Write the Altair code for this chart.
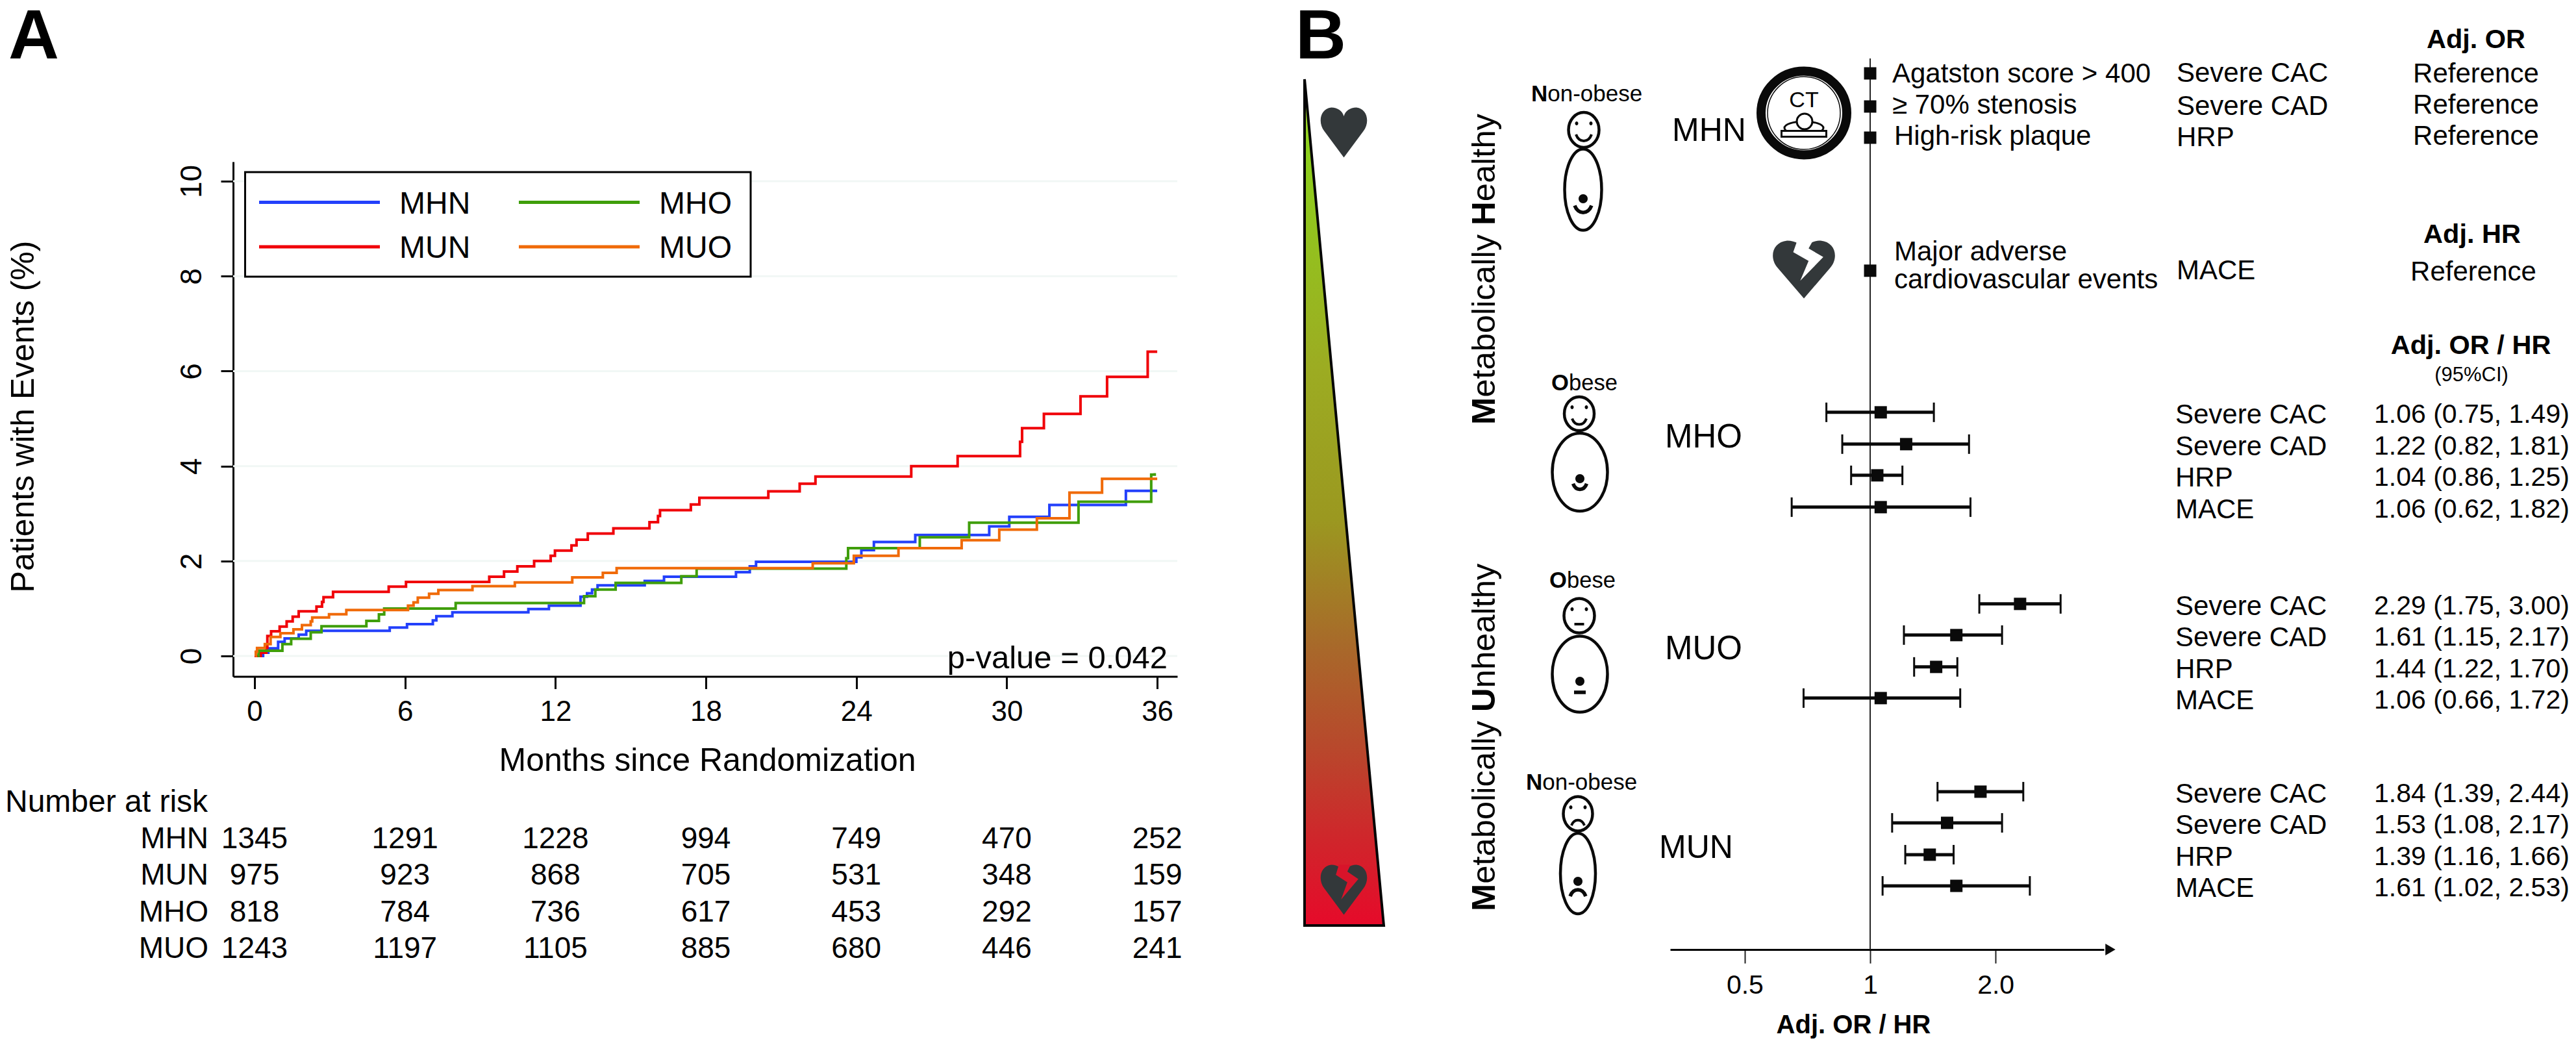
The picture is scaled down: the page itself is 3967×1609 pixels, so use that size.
import altair as alt
import pandas as pd

W, H = 3951, 1593
O = 8
FONT = "Liberation Sans"

# ---------- Panel A: cumulative events (month of jump, level after jump) ----------
MHN_M = [0, .34, .55, .94, 1.2, 1.76, 2.06, 5.39, 6.08, 7.11, 7.25, 7.89, 10.92, 11.74, 13.0, 13.26, 13.46, 13.68, 15.56, 16.33, 19.2, 19.75, 20.0, 24.0, 24.2, 24.7, 26.35, 29.3, 30.1, 31.7, 34.75, 36]
MHN_V = [0, .07, .16, .30, .37, .45, .53, .60, .67, .75, .84, .92, .99, 1.06, 1.25, 1.32, 1.40, 1.49, 1.58, 1.67, 1.765, 1.89, 1.985, 2.08, 2.23, 2.40, 2.55, 2.73, 2.93, 3.18, 3.48, 3.48]
MUN_M = [0, .25, .47, .51, .66, 1.0, 1.28, 1.52, 1.76, 2.47, 2.69, 2.75, 3.13, 5.35, 6.04, 9.36, 9.95, 10.48, 11.15, 11.81, 11.98, 12.64, 12.84, 13.29, 14.31, 15.75, 16.09, 16.17, 17.4, 17.74, 20.49, 21.74, 22.37, 26.19, 28.04, 30.53, 30.61, 31.48, 32.94, 34.0, 35.62, 36]
MUN_V = [0, .07, .18, .42, .52, .62, .73, .83, .94, 1.04, 1.14, 1.24, 1.35, 1.46, 1.56, 1.67, 1.78, 1.89, 2.0, 2.11, 2.22, 2.33, 2.45, 2.58, 2.69, 2.82, 2.95, 3.07, 3.19, 3.33, 3.47, 3.63, 3.78, 4.0, 4.21, 4.51, 4.80, 5.10, 5.47, 5.88, 6.41, 6.41]
MHO_M = [.12, .16, 1.11, 1.46, 2.24, 2.67, 4.46, 4.96, 5.17, 8.02, 13.14, 13.59, 14.4, 17.02, 17.63, 23.6, 23.67, 26.53, 28.5, 32.86, 35.76, 35.9]
MHO_V = [0, .11, .25, .365, .50, .625, .74, .875, 1.0, 1.117, 1.26, 1.40, 1.54, 1.68, 1.84, 2.06, 2.27, 2.50, 2.81, 3.25, 3.82, 3.85]
MUO_M = [.03, .05, .1, .41, .64, 1.03, 1.55, 1.89, 2.24, 2.30, 2.97, 3.66, 6.12, 6.34, 6.51, 6.96, 7.33, 8.69, 10.38, 12.67, 13.89, 14.44, 22.26, 23.9, 25.68, 28.2, 29.7, 31.2, 32.5, 33.8, 36]
MUO_V = [0, .09, .17, .25, .40, .48, .56, .65, .73, .81, .88, .97, 1.06, 1.13, 1.23, 1.31, 1.39, 1.47, 1.55, 1.655, 1.753, 1.85, 1.955, 2.11, 2.27, 2.44, 2.66, 2.90, 3.44, 3.73, 3.73]
GROUP_COLORS = {"MHN": "#2340fb", "MUN": "#f00008", "MHO": "#3f9e0a", "MUO": "#f06a08"}

MONTHS = [0, 6, 12, 18, 24, 30, 36]
Y_TICKS = [0, 2, 4, 6, 8, 10]
RISK = {
    "MHN": [1345, 1291, 1228, 994, 749, 470, 252],
    "MUN": [975, 923, 868, 705, 531, 348, 159],
    "MHO": [818, 784, 736, 617, 453, 292, 157],
    "MUO": [1243, 1197, 1105, 885, 680, 446, 241],
}

# ---------- Panel B: forest plot ----------
ROW_MHN = [0, 1.04, 2.02, 6.2]
ROW_MHO = [10.65, 11.65, 12.63, 13.63]
ROW_MUO = [16.67, 17.65, 18.65, 19.63]
ROW_MUN = [22.57, 23.55, 24.55, 25.53]
OUTCOMES = ["Severe CAC", "Severe CAD", "HRP", "MACE"]
EST_MHO = [1.06, 1.22, 1.04, 1.06]
EST_MUO = [2.29, 1.61, 1.44, 1.06]
EST_MUN = [1.84, 1.53, 1.39, 1.61]
# whisker ends as drawn in the picture
LO_MHO = [.785, .857, .900, .648]
HI_MHO = [1.422, 1.727, 1.195, 1.741]
LO_MUO = [1.828, 1.205, 1.275, .692]
HI_MUO = [2.865, 2.073, 1.619, 1.645]
LO_MUN = [1.451, 1.129, 1.214, 1.071]
HI_MUN = [2.331, 2.073, 1.586, 2.417]
# printed column
LAB_MHO = ["1.06 (0.75, 1.49)", "1.22 (0.82, 1.81)", "1.04 (0.86, 1.25)", "1.06 (0.62, 1.82)"]
LAB_MUO = ["2.29 (1.75, 3.00)", "1.61 (1.15, 2.17)", "1.44 (1.22, 1.70)", "1.06 (0.66, 1.72)"]
LAB_MUN = ["1.84 (1.39, 2.44)", "1.53 (1.08, 2.17)", "1.39 (1.16, 1.66)", "1.61 (1.02, 2.53)"]

SEVERITY = [0, 1]
WIDENING = [0, 1]


def T(text, x, y, size, weight="normal", align="left", angle=None, baseline="middle", color="black"):
    kw = {"angle": angle} if angle is not None else {}
    return alt.Chart(pd.DataFrame({"t": [text]})).mark_text(
        font=FONT, fontSize=size, fontWeight=weight, align=align, baseline=baseline, color=color, **kw
    ).encode(text="t:N", x=alt.value(x - O), y=alt.value(y - O))


def P(path, x, y, w, fill=None, stroke=None, sw=0):
    kw = {}
    if fill:
        kw["fill"] = fill
    if stroke:
        kw["stroke"] = stroke
        kw["strokeWidth"] = sw
    return alt.Chart(pd.DataFrame({"t": [0]})).mark_point(
        shape=path, size=w * w, filled=bool(fill), opacity=1, **kw
    ).encode(x=alt.value(x - O), y=alt.value(y - O))


def ellipse_path(w, h):
    s = max(w, h)
    a, b = w / s, h / s
    ka, kb = a * .5523, b * .5523
    return (f"M{-a},0 C{-a},{-kb} {-ka},{-b} 0,{-b} C{ka},{-b} {a},{-kb} {a},0 "
            f"C{a},{kb} {ka},{b} 0,{b} C{-ka},{b} {-a},{kb} {-a},0 Z")


def ell(x, y, w, h, fill=None, stroke=None, sw=0):
    return P(ellipse_path(w, h), x, y, max(w, h), fill, stroke, sw)


def heart_path(k=1.0):
    return (f"M0,{k} L-0.78,{-.05*k} C-1.05,{-.4*k} -0.95,{-.95*k} -0.5,{-k} C-0.25,{-k} -0.05,{-.85*k} 0,{-.65*k} "
            f"C0.05,{-.85*k} 0.25,{-k} 0.5,{-k} C0.95,{-.95*k} 1.05,{-.4*k} 0.78,{-.05*k} Z")


def crack_path(k=1.0):
    return (f"M-.2,{-1.0*k} L-.32,{-.6*k} L.14,{-.3*k} L-.11,{.39*k} L.58,{-.43*k} L.14,{-.73*k} L.27,{-1.0*k} Z")


SMILE = "M-1,-0.5 C-0.6,0.6 0.6,0.6 1,-0.5"
FROWN = "M-1,0.5 C-0.6,-0.6 0.6,-0.6 1,0.5"
FLAT = "M-1,0 L1,0"
INK = "#0a0a0a"
HEART = "#33383a"


def person(hx, hy, hw, hh, bx, by, bw, bh, dot_y, mouth_y, mouth_w, mouth, fmouth, fmw, sw=4.5):
    return [
        ell(hx, hy, hw, hh, "white", INK, sw),
        ell(bx, by, bw, bh, "white", INK, sw),
        ell(hx - 11, hy - 10, 5, 6, INK),
        ell(hx + 11, hy - 10, 5, 6, INK),
        P(fmouth, hx, hy + 13, fmw, None, INK, 4),
        ell(bx, dot_y, 14, 14, INK),
        P(mouth, bx, mouth_y, mouth_w, None, INK, 5.5),
    ]


# ---------- scales ----------
x_km = alt.Scale(domain=[-0.855, 36.8], range=[359 - O, 1813 - O], nice=False, zero=False)
y_km = alt.Scale(domain=[-0.43, 10.41], range=[1041.5 - O, 249 - O], nice=False, zero=False)
x_for = alt.Scale(type="log", base=2, domain=[0.331, 3.64], range=[2572 - O, 3240 - O], nice=False)
y_for = alt.Scale(domain=[0, 26], range=[113 - O, 113 - O + 49 * 26], nice=False, zero=False)

X_KM = alt.X("m:Q", scale=x_km, axis=alt.Axis(
    orient="bottom", offset=(1041.5 - O) - H, values=MONTHS, grid=False, title="Months since Randomization",
    domainColor="black", domainWidth=3, tickColor="black", tickWidth=3, tickSize=19, tickCount=7,
    labelFont=FONT, labelFontSize=44, labelColor="black", labelPadding=14, labelFlush=False, labelOverlap=False,
    titleFont=FONT, titleFontSize=50, titleFontWeight="normal", titleColor="black",
    titleX=1089 - O, titleY=130, titleBaseline="middle", titleAlign="center"))
Y_KM = alt.Y("v:Q", scale=y_km, axis=alt.Axis(
    orient="left", offset=-(359 - O), values=Y_TICKS, grid=False, title="Patients with Events (%)",
    domainColor="black", domainWidth=3, tickColor="black", tickWidth=3, tickSize=19,
    labelFont=FONT, labelFontSize=46, labelColor="black", labelAngle=270, labelAlign="center",
    labelBaseline="bottom", labelPadding=21, labelFlush=False, labelOverlap=False,
    titleFont=FONT, titleFontSize=50, titleFontWeight="normal", titleColor="black",
    titleX=-298, titleY=641 - O, titleAngle=270, titleAlign="center", titleBaseline="bottom"))

# ---------- panel A ----------
grid_df = pd.DataFrame({"v": Y_TICKS, "m": [-0.855] * 6, "m2": [36.8] * 6})
km_layers = [
    alt.Chart(grid_df).mark_rule(color="#f1f7f5", strokeWidth=3).encode(x=X_KM, x2="m2:Q", y=Y_KM),
    alt.Chart(pd.DataFrame({"t": [0]})).mark_rect(fill="white", stroke="black", strokeWidth=3).encode(
        x=alt.value(377.5 - O), x2=alt.value(1156 - O), y=alt.value(265 - O), y2=alt.value(426 - O)),
]
for name, ms, vs in [("MHN", MHN_M, MHN_V), ("MUN", MUN_M, MUN_V), ("MHO", MHO_M, MHO_V), ("MUO", MUO_M, MUO_V)]:
    km_layers.append(
        alt.Chart(pd.DataFrame({"m": ms, "v": vs})).mark_line(
            interpolate="step-after", color=GROUP_COLORS[name], strokeWidth=4, strokeJoin="miter"
        ).encode(x=X_KM, y=Y_KM)
    )
for rx0, ry, name in [(399, 311.5, "MHN"), (399, 380, "MUN"), (799, 311.5, "MHO"), (799, 380, "MUO")]:
    km_layers.append(alt.Chart(pd.DataFrame({"t": [0]})).mark_rule(color=GROUP_COLORS[name], strokeWidth=5).encode(
        x=alt.value(rx0 - O), x2=alt.value(rx0 + 186 - O), y=alt.value(ry - O)))
    km_layers.append(T(name, rx0 + 216, ry + 3, 48))
km_layers.append(T("p-value = 0.042", 1798, 1014, 49, align="right"))
for row_y, name in [(1292, "MHN"), (1348, "MUN"), (1405, "MHO"), (1461, "MUO")]:
    km_layers.append(T(name, 321, row_y, 46, align="right"))
    km_layers.append(
        alt.Chart(pd.DataFrame({"m": MONTHS, "n": RISK[name]})).mark_text(
            font=FONT, fontSize=46, align="center", baseline="middle", color="black"
        ).encode(x=X_KM, y=alt.value(row_y - O), text="n:N")
    )
km_layers.append(T("Number at risk", 8, 1236, 48))
km = alt.layer(*km_layers)

# ---------- panel B forest ----------
rows = []
for rws, est, los, his, labs in [
    (ROW_MHO, EST_MHO, LO_MHO, HI_MHO, LAB_MHO),
    (ROW_MUO, EST_MUO, LO_MUO, HI_MUO, LAB_MUO),
    (ROW_MUN, EST_MUN, LO_MUN, HI_MUN, LAB_MUN),
]:
    for r, o, e, lo, hi, lab in zip(rws, OUTCOMES, est, los, his, labs):
        rows.append({"row": r, "out": o, "e": e, "lo": lo, "hi": hi, "lab": lab})
est_df = pd.DataFrame(rows)
ref_df = pd.DataFrame({"row": ROW_MHN, "e": [1, 1, 1, 1], "out": OUTCOMES})

for_axis = alt.Axis(
    orient="bottom", offset=(1462 - O) - H, values=[0.5, 1, 2], grid=False, title="Adj. OR / HR",
    labelExpr="datum.value == 1 ? '1' : format(datum.value, '.1f')",
    domainColor="black", domainWidth=3, tickColor="#222222", tickWidth=2, tickSize=21,
    labelFont=FONT, labelFontSize=41, labelColor="black", labelPadding=14, labelOverlap=False, labelFlush=False,
    titleFont=FONT, titleFontSize=40, titleFontWeight="bold", titleColor="black",
    titleX=2854 - O, titleY=116, titleBaseline="middle", titleAlign="center")
X_F = alt.X("e:Q", scale=x_for, axis=for_axis)
X_LO = alt.X("lo:Q", scale=x_for, axis=for_axis)
X_HI = alt.X("hi:Q", scale=x_for, axis=for_axis)
Y_F = alt.Y("row:Q", scale=y_for, axis=None)

forest = alt.layer(
    alt.Chart(pd.DataFrame({"e": [1]})).mark_rule(color="#222222", strokeWidth=2).encode(
        x=X_F, y=alt.value(90 - O), y2=alt.value(1462 - O)),
    alt.Chart(est_df).mark_rule(color=INK, strokeWidth=5).encode(x=X_LO, x2="hi:Q", y=Y_F),
    alt.Chart(est_df).mark_tick(orient="vertical", size=30, thickness=3, color=INK, opacity=1).encode(x=X_LO, y=Y_F),
    alt.Chart(est_df).mark_tick(orient="vertical", size=30, thickness=3, color=INK, opacity=1).encode(x=X_HI, y=Y_F),
    alt.Chart(est_df).mark_point(shape="square", filled=True, size=361, color=INK, opacity=1).encode(x=X_F, y=Y_F),
    alt.Chart(ref_df).mark_point(shape="square", filled=True, size=361, color=INK, opacity=1).encode(x=X_F, y=Y_F),
    alt.Chart(est_df).mark_text(font=FONT, fontSize=42, align="left", baseline="middle", color="black", dy=4).encode(
        x=alt.value(3350 - O), y=Y_F, text="out:N"),
    alt.Chart(est_df).mark_text(font=FONT, fontSize=41, align="left", baseline="middle", color="black", dy=4).encode(
        x=alt.value(3656 - O), y=Y_F, text="lab:N"),
    alt.Chart(ref_df).mark_text(font=FONT, fontSize=42, align="left", baseline="middle", color="black", dy=0).encode(
        x=alt.value(3352 - O), y=Y_F, text="out:N"),
)

# ---------- gradient triangle ----------
tri = alt.Chart(pd.DataFrame({"risk": SEVERITY, "w": WIDENING, "w0": [0, 0]})).mark_area(
    orient="horizontal",
    color=alt.LinearGradient(gradient="linear", x1=0, x2=0, y1=0, y2=1, stops=[
        alt.GradientStop(color="#b9e43a", offset=0),
        alt.GradientStop(color="#8dd01c", offset=.08),
        alt.GradientStop(color="#9cac22", offset=.34),
        alt.GradientStop(color="#9b9820", offset=.52),
        alt.GradientStop(color="#a8692a", offset=.67),
        alt.GradientStop(color="#b8482c", offset=.79),
        alt.GradientStop(color="#d0252b", offset=.90),
        alt.GradientStop(color="#e60a2a", offset=1),
    ]),
    stroke="#050505", strokeWidth=4, opacity=1,
).encode(
    x=alt.X("w:Q", scale=alt.Scale(domain=[0, 1], range=[2009 - O, 2131 - O], nice=False, zero=False), axis=None),
    x2="w0:Q",
    y=alt.Y("risk:Q", scale=alt.Scale(domain=[0, 1], range=[122 - O, 1425 - O], nice=False, zero=False), axis=None),
)

# ---------- annotations ----------
ann = [
    T("A", 13, 90, 108, "bold", baseline="alphabetic"),
    T("B", 1995, 90, 108, "bold", baseline="alphabetic"),
    P(heart_path(), 2069.5, 204, 77, HEART),
    P(heart_path(), 2069.5, 1370, 77, HEART),
    P(crack_path(), 2069.5, 1370, 77, "#d8142a"),
    P(heart_path(.864), 2778, 415, 103, HEART),
    P(crack_path(.864), 2778, 415, 103, "white"),
    # CT badge
    ell(2778, 174, 132, 129, "white", INK, 14),
    ell(2778, 174, 112, 112, None, INK, 1.5),
    T("CT", 2778, 155, 34, align="center"),
    ell(2778, 197, 60, 20, "white", INK, 3),
    ell(2779, 187, 24, 24, "white", INK, 3),
    P("M-1,-0.13 L1,-0.13 L1,0.13 L-1,0.13 Z", 2778, 206, 69, "white", INK, 3),
]
ann += person(2439, 200, 47, 54, 2438, 292, 57, 125, 306, 323, 26, SMILE, SMILE, 24)
ann += person(2432, 637, 46, 52, 2433, 727, 85, 120, 737, 750, 21, SMILE, SMILE, 22)
ann += person(2432, 948, 47, 53, 2433, 1038, 85, 117, 1049, 1066, 18, FLAT, FLAT, 15)
ann += person(2430, 1253, 45, 53, 2430, 1345, 54, 124, 1357, 1374, 24, FROWN, FROWN, 20)

# labels with a bold initial (widths of the bold capital set the second part's start)
for x0, y0, head, rest, f, adv in [
    (2358, 145, "N", "on-obese", 35, .722),
    (2389, 591, "O", "bese", 34.6, .778),
    (2386, 895, "O", "bese", 34.6, .778),
    (2350, 1205, "N", "on-obese", 35, .722),
]:
    ann.append(T(head, x0, y0, f, "bold"))
    ann.append(T(rest, x0 + adv * f, y0, f))

f_rot = 50.7
for bottom, parts in [
    (654, [("M", "bold", .833), ("etabolically ", "normal", 5.224), ("H", "bold", .722), ("ealthy", "normal", 2.668)]),
    (1403, [("M", "bold", .833), ("etabolically ", "normal", 5.224), ("U", "bold", .722), ("nhealthy", "normal", 3.78)]),
]:
    y_pos = bottom
    for s, wgt, adv in parts:
        ann.append(T(s, 2302, y_pos, f_rot, wgt, angle=270, baseline="alphabetic"))
        y_pos -= adv * f_rot

ann += [
    T("MHN", 2575, 202, 50),
    T("MHO", 2564, 674, 51),
    T("MUO", 2564, 1000, 51),
    T("MUN", 2555, 1306, 50),
    T("Agatston score > 400", 2914, 114, 42),
    T("≥ 70% stenosis", 2914, 162, 42),
    T("High-risk plaque", 2917, 210, 42),
    T("Major adverse", 2917, 388, 42),
    T("cardiovascular events", 2917, 431, 42),
    T("Reference", 3813, 114, 42, align="center"),
    T("Reference", 3813, 162, 42, align="center"),
    T("Reference", 3813, 210, 42, align="center"),
    T("Reference", 3809, 419, 42, align="center"),
    T("Adj. OR", 3813, 62, 41.5, "bold", align="center"),
    T("Adj. HR", 3807, 362, 41.5, "bold", align="center"),
    T("Adj. OR / HR", 3805, 533, 41.5, "bold", align="center"),
    T("(95%CI)", 3806, 578, 31, align="center"),
    alt.Chart(pd.DataFrame({"t": [0]})).mark_point(shape="triangle-right", filled=True, size=320, color=INK, opacity=1).encode(
        x=alt.value(3250 - O), y=alt.value(1462 - O)),
]

chart = alt.layer(tri, km, forest, *ann).resolve_scale(
    x="independent", y="independent"
).properties(
    width=W, height=H, padding=0, background="white",
    autosize=alt.AutoSizeParams(type="none", contains="padding"),
).configure_view(strokeWidth=0)

chart.save("out.html", embed_options={"renderer": "svg", "actions": False})
